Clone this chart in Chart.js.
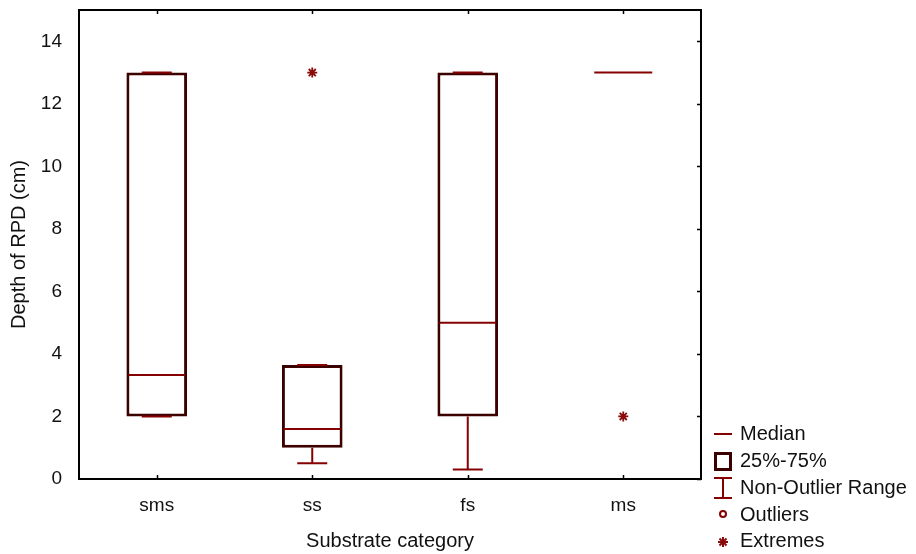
<!DOCTYPE html>
<html>
<head>
<meta charset="utf-8">
<script src="https://cdn.jsdelivr.net/npm/chart.js@4.4.1/dist/chart.umd.min.js"></script>
<style>
  html, body { margin: 0; padding: 0; background: #fff; }
  #wrap { width: 916px; height: 554px; }
</style>
</head>
<body>
<div id="wrap"><canvas id="boxChart"></canvas></div>
<script>
// Box plot data
var categories = ["sms", "ss", "fs", "ms"];
var q1 = [2, 1, 2, null];
var q3 = [13, 3.65, 13, null];
var medians = [3.33, 1.6, 5, 13];
var whiskerLow = [2, 0.5, 0.3, null];
var whiskerHigh = [13, 3.65, 13, null];
var extremes = [null, 13, null, 2];
var yTicks = [0, 2, 4, 6, 8, 10, 12, 14];

var FONT = "'Liberation Sans', Arial, sans-serif";
var BOX_COLOR = '#3c0000';
var LINE_COLOR = '#850000';
var MARK_COLOR = '#8b0a0a';

var boxes = categories.map(function (c, i) {
    return q1[i] === null ? null : [q1[i], q3[i]];
});

// medians, whiskers, frame and legend drawn on top using the chart scales
var boxExtras = {
    id: 'boxExtras',
    afterDatasetsDraw: function (chart) {
        var ctx = chart.ctx;
        var x = chart.scales.x, y = chart.scales.y;
        var meta = chart.getDatasetMeta(0);
        ctx.save();
        ctx.lineCap = 'butt';
        categories.forEach(function (c, i) {
            var cx = x.getPixelForValue(i);
            var half = 31;
            if (meta.data[i] && boxes[i]) half = meta.data[i].width / 2;
            // whiskers
            if (whiskerLow[i] !== null) {
                var capW = 15;
                ctx.strokeStyle = LINE_COLOR;
                ctx.lineWidth = 2;
                ctx.beginPath();
                ctx.moveTo(cx, y.getPixelForValue(whiskerLow[i]));
                ctx.lineTo(cx, y.getPixelForValue(q1[i]));
                ctx.moveTo(cx, y.getPixelForValue(whiskerHigh[i]));
                ctx.lineTo(cx, y.getPixelForValue(q3[i]));
                ctx.moveTo(cx - capW, y.getPixelForValue(whiskerLow[i]));
                ctx.lineTo(cx + capW, y.getPixelForValue(whiskerLow[i]));
                ctx.moveTo(cx - capW, y.getPixelForValue(whiskerHigh[i]));
                ctx.lineTo(cx + capW, y.getPixelForValue(whiskerHigh[i]));
                ctx.stroke();
            }
            // median
            var my = y.getPixelForValue(medians[i]);
            ctx.strokeStyle = LINE_COLOR;
            ctx.lineWidth = 2;
            ctx.beginPath();
            ctx.moveTo(cx - half + 2, my);
            ctx.lineTo(cx + half - 2, my);
            ctx.stroke();
        });
        ctx.restore();
    },
    afterDraw: function (chart) {
        var ctx = chart.ctx;
        var x = chart.scales.x, y = chart.scales.y;
        var a = chart.chartArea;
        ctx.save();
        // frame
        ctx.strokeStyle = '#000';
        ctx.lineWidth = 2;
        ctx.strokeRect(a.left, a.top, a.right - a.left, a.bottom - a.top);
        ctx.lineWidth = 1.5;
        ctx.beginPath();
        categories.forEach(function (c, i) {
            var px = Math.round(x.getPixelForValue(i)) + 0.5;
            ctx.moveTo(px, a.bottom);
            ctx.lineTo(px, a.bottom - 4);
            ctx.moveTo(px, a.top);
            ctx.lineTo(px, a.top + 4);
        });
        yTicks.forEach(function (v) {
            var py = Math.round(y.getPixelForValue(v)) + 0.5;
            ctx.moveTo(a.right, py);
            ctx.lineTo(a.right - 4, py);
        });
        ctx.stroke();

        // legend
        var lx = a.right + 13, rx = a.right + 31, mx = (lx + rx) / 2, tx = a.right + 39;
        var rows = [434, 461, 488, 515, 541];
        var labels = ['Median', '25%-75%', 'Non-Outlier Range', 'Outliers', 'Extremes'];
        ctx.lineWidth = 2;
        ctx.strokeStyle = LINE_COLOR;
        ctx.beginPath();
        ctx.moveTo(lx, rows[0]);
        ctx.lineTo(rx, rows[0]);
        ctx.stroke();
        ctx.strokeStyle = BOX_COLOR;
        ctx.lineWidth = 3;
        ctx.strokeRect(lx + 1.5, rows[1] - 7.5, rx - lx - 3, 16);
        ctx.lineWidth = 2;
        ctx.strokeStyle = LINE_COLOR;
        ctx.beginPath();
        ctx.moveTo(lx, rows[2] - 10);
        ctx.lineTo(rx, rows[2] - 10);
        ctx.moveTo(mx, rows[2] - 10);
        ctx.lineTo(mx, rows[2] + 10);
        ctx.moveTo(lx, rows[2] + 10);
        ctx.lineTo(rx, rows[2] + 10);
        ctx.stroke();
        ctx.beginPath();
        ctx.arc(mx, rows[3] - 1, 3, 0, Math.PI * 2);
        ctx.stroke();
        ctx.strokeStyle = MARK_COLOR;
        Chart.helpers.drawPoint(ctx, {pointStyle: 'star', radius: 5, borderWidth: 1.8, rotation: 0}, mx, rows[4] + 1);
        ctx.fillStyle = '#111';
        ctx.font = '20px ' + FONT;
        ctx.textBaseline = 'middle';
        ctx.textAlign = 'left';
        labels.forEach(function (t, i) {
            ctx.fillText(t, tx, rows[i]);
        });
        ctx.restore();
    }
};

new Chart(document.getElementById('boxChart'), {
    type: 'bar',
    data: {
        labels: categories,
        datasets: [{
            label: '25%-75%',
            data: boxes,
            backgroundColor: '#ffffff',
            borderColor: BOX_COLOR,
            borderWidth: 3,
            borderSkipped: false,
            barPercentage: 0.39,
            categoryPercentage: 1
        }, {
            type: 'line',
            label: 'Extremes',
            data: extremes,
            showLine: false,
            pointStyle: 'star',
            pointRadius: 5,
            pointBorderWidth: 1.8,
            pointBorderColor: MARK_COLOR,
            pointBackgroundColor: MARK_COLOR
        }]
    },
    options: {
        responsive: true,
        maintainAspectRatio: false,
        animation: false,
        layout: { padding: { top: 10, right: 215, left: 0, bottom: 0 } },
        plugins: {
            legend: { display: false },
            tooltip: { enabled: false }
        },
        scales: {
            x: {
                grid: { display: false },
                border: { display: false },
                ticks: { color: '#111', padding: 7, font: { family: FONT, size: 19 } },
                title: {
                    display: true,
                    text: 'Substrate category',
                    color: '#111',
                    padding: { top: 0, bottom: 1 },
                    font: { family: FONT, size: 20 }
                },
                afterFit: function (s) { s.height = 75; }
            },
            y: {
                min: 0,
                max: 15,
                afterBuildTicks: function (s) {
                    s.ticks = yTicks.map(function (v) { return { value: v }; });
                },
                grid: { display: false },
                border: { display: false },
                ticks: { color: '#111', padding: 9, font: { family: FONT, size: 19 } },
                title: {
                    display: true,
                    text: 'Depth of RPD (cm)',
                    color: '#111',
                    padding: { top: 7, bottom: 0 },
                    font: { family: FONT, size: 20 }
                },
                afterFit: function (s) {
                    s.width = 79;
                    s.paddingTop = 0;
                    s.paddingBottom = 0;
                }
            }
        }
    },
    plugins: [boxExtras]
});
</script>
</body>
</html>
